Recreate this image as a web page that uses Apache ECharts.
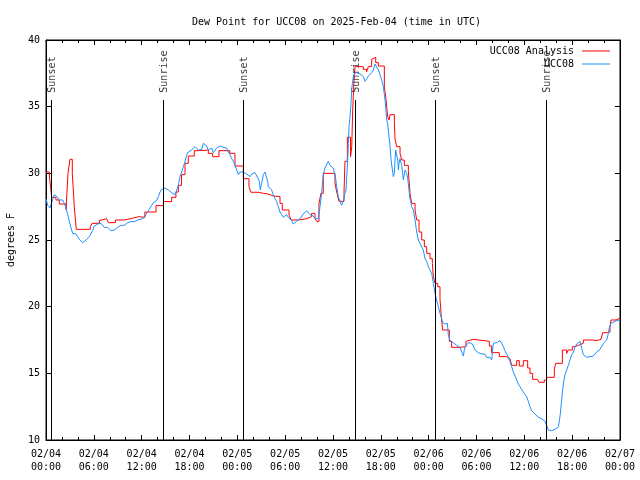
<!DOCTYPE html>
<html><head><meta charset="utf-8">
<script src="https://cdn.jsdelivr.net/npm/echarts@6/dist/echarts.min.js"></script>
<style>html,body{margin:0;padding:0;background:#fff}#c{width:640px;height:480px}</style>
</head><body><div id="c"></div>
<script>
const titleText = 'Dew Point for UCC08 on 2025-Feb-04 (time in UTC)';
const xTickLabels = ['02/04\n00:00','02/04\n06:00','02/04\n12:00','02/04\n18:00','02/05\n00:00','02/05\n06:00','02/05\n12:00','02/05\n18:00','02/06\n00:00','02/06\n06:00','02/06\n12:00','02/06\n18:00','02/07\n00:00'];
const sunTimes = [0.67, 14.74, 24.76, 38.8, 48.85, 62.77];
const sunLabels = ['Sunset','Sunrise','Sunset','Sunrise','Sunset','Sunrise'];
// hours since 02/04 00:00 UTC, dew point F (analysis is stepped: value holds until next point)
const analysisPoints = [[0,30.1],[0.42,29.8],[0.59,28.9],[0.71,28.2],[1.25,28.0],[1.67,27.7],[2.51,27.3],[2.76,30.0],[3.01,31.05],[3.30,30.0],[3.55,27.5],[3.80,25.8],[5.56,26.0],[5.77,26.25],[6.69,26.45],[6.81,26.6],[7.61,26.45],[7.82,26.3],[8.70,26.5],[9.74,26.6],[10.66,26.75],[11.62,26.7],[12.4,27.1],[13.8,27.58],[14.72,27.88],[15.76,28.2],[16.3,28.6],[16.6,29.1],[17.0,29.9],[17.44,30.75],[17.85,31.3],[18.6,31.7],[19.32,31.75],[20.36,31.5],[20.9,31.25],[21.7,31.7],[23.05,31.5],[23.7,30.55],[24.75,29.6],[25.46,29.0],[25.7,28.58],[26.63,28.5],[27.26,28.45],[27.89,28.3],[28.51,28.25],[29.35,27.75],[29.64,27.25],[30.48,26.9],[30.73,26.5],[31.65,26.6],[32.7,26.75],[33.32,27.0],[33.74,26.6],[33.95,26.4],[34.24,27.75],[34.49,28.5],[34.78,30.0],[36.25,29.25],[36.5,28.5],[36.75,27.9],[37.38,28.5],[37.5,30.9],[37.8,32.7],[38.2,31.25],[38.35,32.0],[38.47,34.75],[38.64,37.0],[38.76,38.0],[39.8,37.8],[40.2,37.6],[40.44,38.0],[40.85,38.55],[41.06,38.7],[41.36,38.3],[41.69,38.05],[42.44,36.5],[42.61,35.75],[42.86,34.25],[43.03,34.0],[43.15,34.4],[43.7,33.75],[43.78,32.6],[43.99,32.0],[44.41,31.5],[44.62,31.0],[44.95,30.6],[45.45,30.2],[45.66,28.5],[45.87,27.75],[46.29,27.25],[46.5,26.5],[46.79,25.6],[47.13,25.0],[47.46,24.5],[47.75,24.0],[48.17,23.6],[48.46,23.25],[48.59,22.25],[48.8,21.75],[49.13,21.5],[49.42,20.6],[49.55,19.5],[49.75,18.25],[50.59,17.4],[50.88,16.95],[51.93,17.0],[52.68,17.4],[52.85,17.55],[53.6,17.7],[53.81,17.4],[55.61,17.05],[55.9,16.55],[56.86,16.25],[57.78,16.1],[58.2,16.05],[58.41,15.6],[59.04,15.95],[59.37,15.55],[59.87,15.95],[60.42,15.4],[60.71,15.0],[61.04,14.55],[61.63,14.4],[61.84,14.33],[62.51,14.5],[62.8,14.7],[63.76,15.3],[63.93,15.75],[64.77,16.75],[65.31,16.5],[65.52,16.75],[66.02,17.0],[66.36,17.1],[66.77,17.25],[67.4,17.5],[68.53,17.45],[69.07,17.55],[69.62,17.6],[69.83,18.05],[70.45,18.1],[70.75,18.45],[70.87,19.0],[71.5,19.1],[71.88,19.2],[72,19.25]];
const obsPoints = [[0,28.1],[0.21,27.6],[0.5,27.4],[0.71,27.25],[0.84,28.05],[1.05,28.4],[1.25,28.5],[1.46,28.2],[1.67,28.0],[1.88,27.9],[2.09,28.0],[2.3,27.75],[2.51,27.4],[2.72,26.9],[2.93,26.4],[3.14,25.9],[3.34,25.5],[3.55,25.45],[3.76,25.45],[3.97,25.25],[4.18,25.05],[4.39,24.95],[4.6,24.8],[4.81,24.7],[5.02,25.0],[5.23,25.1],[5.43,25.25],[5.64,25.4],[5.85,25.7],[6.06,26.05],[6.27,26.1],[6.48,26.2],[6.69,26.1],[6.9,26.25],[7.11,26.1],[7.32,25.95],[7.53,26.1],[7.73,25.95],[7.94,25.8],[8.15,25.7],[8.36,25.6],[8.57,25.75],[8.78,25.85],[8.99,25.95],[9.2,26.05],[9.41,26.1],[9.62,26.2],[9.82,26.1],[10.03,26.2],[10.24,26.3],[10.45,26.38],[10.66,26.38],[10.87,26.45],[11.08,26.38],[11.29,26.45],[11.5,26.5],[11.71,26.5],[11.91,26.55],[12.12,26.5],[12.33,26.7],[12.54,26.9],[12.75,27.1],[12.96,27.3],[13.26,27.6],[13.47,27.8],[13.67,27.875],[13.88,27.95],[14.09,28.25],[14.3,28.6],[14.51,28.8],[14.72,28.75],[14.93,28.9],[15.14,29.05],[15.35,28.75],[15.56,28.7],[15.76,28.55],[15.97,28.6],[16.18,28.4],[16.39,28.55],[16.6,29.1],[16.81,29.75],[17.02,30.1],[17.23,30.5],[17.44,30.9],[17.65,31.4],[17.85,31.6],[18.06,31.5],[18.27,31.75],[18.48,31.9],[18.69,32.0],[18.9,32.1],[19.11,31.75],[19.32,31.6],[19.53,31.8],[19.74,32.25],[19.95,32.4],[20.15,32.05],[20.36,31.75],[20.57,31.8],[20.78,31.9],[20.99,31.55],[21.2,31.6],[21.41,31.9],[21.62,31.8],[21.83,32.05],[22.04,32.1],[22.24,31.95],[22.45,32.05],[22.66,31.9],[22.87,31.6],[23.08,31.4],[23.29,31.1],[23.5,30.9],[23.71,30.6],[23.92,30.25],[24.13,29.9],[24.33,30.1],[24.54,30.2],[24.75,30.1],[24.96,29.95],[25.17,29.95],[25.38,29.9],[25.59,29.75],[25.8,29.95],[26.0,30.05],[26.21,30.05],[26.42,29.9],[26.63,29.6],[26.76,29.4],[26.88,28.75],[27.05,29.25],[27.26,29.9],[27.47,30.1],[27.68,30.2],[27.8,29.4],[27.89,29.0],[28.1,28.95],[28.3,28.75],[28.51,28.4],[28.72,28.1],[28.93,27.9],[29.14,27.5],[29.35,27.1],[29.56,26.9],[29.77,26.7],[29.98,26.75],[30.19,26.9],[30.39,26.7],[30.6,26.6],[30.81,26.45],[31.02,26.2],[31.23,26.3],[31.44,26.4],[31.65,26.5],[31.86,26.6],[32.07,26.75],[32.28,26.95],[32.48,27.1],[32.69,27.2],[32.9,27.05],[33.11,26.9],[33.32,26.95],[33.53,26.8],[33.74,26.6],[33.95,26.5],[34.16,26.6],[34.37,27.5],[34.57,28.5],[34.78,29.9],[34.99,30.4],[35.2,30.3],[35.41,30.9],[35.62,30.6],[35.83,30.5],[36.04,30.4],[36.17,30.5],[36.33,29.6],[36.46,29.0],[36.67,28.25],[36.88,27.9],[37.08,27.6],[37.29,27.9],[37.5,28.5],[37.64,28.75],[37.72,29.75],[37.84,31.0],[37.93,32.25],[38.01,33.5],[38.14,34.25],[38.26,35.25],[38.35,36.25],[38.43,36.75],[38.56,37.25],[38.68,37.5],[38.85,37.6],[38.97,37.55],[39.18,37.5],[39.39,37.45],[39.6,37.4],[39.81,37.25],[40.02,36.9],[40.23,37.1],[40.44,37.3],[40.65,37.45],[40.85,37.55],[41.06,37.75],[41.27,38.2],[41.48,38.05],[41.69,37.75],[41.9,37.4],[42.11,37.0],[42.32,36.5],[42.44,35.9],[42.53,35.5],[42.61,35.0],[42.74,34.0],[42.86,33.75],[42.94,33.25],[43.03,32.75],[43.15,32.1],[43.28,31.0],[43.45,30.25],[43.57,29.75],[43.7,30.0],[43.78,31.0],[43.86,31.75],[43.99,31.9],[44.12,31.0],[44.2,30.25],[44.28,30.75],[44.41,31.1],[44.53,31.0],[44.62,30.6],[44.83,29.5],[44.95,30.0],[45.04,30.25],[45.16,30.4],[45.24,30.0],[45.37,29.6],[45.45,29.25],[45.58,28.5],[45.66,28.1],[45.79,27.75],[45.87,27.5],[46.08,27.25],[46.29,26.5],[46.5,25.6],[46.71,25.0],[46.92,24.75],[47.13,24.6],[47.33,24.25],[47.54,23.6],[47.75,23.4],[47.96,23.0],[48.17,22.75],[48.38,22.5],[48.59,21.75],[48.8,21.0],[49.0,20.5],[49.21,20.0],[49.42,19.5],[49.63,19.1],[49.75,18.8],[49.92,18.7],[50.05,18.7],[50.26,18.7],[50.34,18.75],[50.47,17.9],[50.67,17.45],[50.88,17.4],[51.09,17.3],[51.3,17.25],[51.51,17.1],[51.72,17.0],[51.93,16.95],[52.05,16.75],[52.22,16.5],[52.35,16.3],[52.47,16.75],[52.56,16.95],[52.76,17.1],[52.97,17.3],[53.18,17.4],[53.39,17.25],[53.6,17.05],[53.81,16.75],[54.02,16.6],[54.23,16.55],[54.44,16.55],[54.65,16.45],[54.85,16.4],[55.06,16.45],[55.27,16.2],[55.48,16.3],[55.69,16.2],[55.77,16.1],[55.9,16.0],[56.02,16.75],[56.11,17.25],[56.32,17.3],[56.53,17.3],[56.74,17.4],[56.95,17.45],[57.15,17.25],[57.36,17.0],[57.57,16.7],[57.78,16.45],[57.99,16.2],[58.2,15.9],[58.41,15.5],[58.62,15.1],[58.83,14.8],[59.04,14.5],[59.25,14.2],[59.46,14.0],[59.66,13.8],[59.87,13.6],[60.08,13.45],[60.29,13.25],[60.5,12.9],[60.71,12.5],[60.92,12.2],[61.13,12.05],[61.34,11.95],[61.55,11.8],[61.76,11.7],[61.97,11.75],[62.18,11.6],[62.39,11.5],[62.59,11.4],[62.8,11.1],[63.01,10.75],[63.22,10.6],[63.43,10.7],[63.64,10.75],[63.85,10.8],[64.06,10.9],[64.27,11.0],[64.39,11.4],[64.52,12.0],[64.68,13.0],[64.81,13.75],[64.94,14.4],[65.1,14.9],[65.31,15.25],[65.52,15.6],[65.73,16.0],[65.94,16.4],[66.15,16.6],[66.36,16.95],[66.57,17.2],[66.77,17.3],[66.98,17.4],[67.19,16.9],[67.4,16.4],[67.61,16.25],[67.82,16.2],[68.03,16.2],[68.24,16.25],[68.45,16.3],[68.66,16.3],[68.86,16.45],[69.07,16.6],[69.28,16.7],[69.49,16.8],[69.7,17.0],[69.91,17.25],[70.12,17.2],[70.33,17.5],[70.54,18.0],[70.66,18.45],[70.87,18.75],[71.04,18.7],[71.21,18.85],[71.37,18.75],[71.58,18.95],[71.79,19.0],[72.0,19.0]];

const FONT = 'DejaVu Sans Mono';
const chart = echarts.init(document.getElementById('c'), null, {renderer: 'canvas'});
const axisBase = {
  axisLine: {show: true, onZero: false, lineStyle: {color: '#000', width: 1}},
  splitLine: {show: false},
};
chart.setOption({
  animation: false,
  backgroundColor: '#fff',
  textStyle: {fontFamily: FONT, fontSize: 10, color: '#000'},
  title: {text: titleText, left: 187, top: 12,
    textStyle: {fontFamily: FONT, fontSize: 10, fontWeight: 'normal', color: '#000'}},
  legend: [
    {data: ['UCC08 Analysis'], right: 25, top: 41, orient: 'vertical', align: 'right',
     itemWidth: 28, itemHeight: 1, icon: 'rect',
     textStyle: {fontFamily: FONT, fontSize: 10, color: '#000', padding: [0, 3, 0, 0]}},
    {data: ['UCC08'], right: 25, top: 54, orient: 'vertical', align: 'right',
     itemWidth: 28, itemHeight: 1, icon: 'rect',
     textStyle: {fontFamily: FONT, fontSize: 10, color: '#000', padding: [0, 3, 0, 0]}}
  ],
  grid: {left: 46, right: 20, top: 40, bottom: 40, show: true, borderColor: '#000', borderWidth: 1,
    backgroundColor: 'transparent', containLabel: false, outerBoundsMode: 'none'},
  xAxis: [
    Object.assign({type: 'value', min: 0, max: 72, interval: 6, position: 'bottom',
      axisTick: {show: true, inside: true, length: 5, lineStyle: {color: '#000'}},
      minorTick: {show: true, splitNumber: 3, length: 3, lineStyle: {color: '#000'}},
      axisLabel: {margin: 8, lineHeight: 13, fontFamily: FONT, fontSize: 10, color: '#000',
        formatter: v => xTickLabels[Math.round(v / 6)] || ''}}, axisBase),
    Object.assign({type: 'value', min: 0, max: 72, interval: 6, position: 'top',
      axisTick: {show: true, inside: true, length: 5, lineStyle: {color: '#000'}},
      minorTick: {show: true, splitNumber: 3, length: 3, lineStyle: {color: '#000'}},
      axisLabel: {show: false}}, axisBase)
  ],
  yAxis: [
    Object.assign({type: 'value', min: 10, max: 40, interval: 5, position: 'left',
      name: 'degrees F', nameLocation: 'middle', nameGap: 30, nameRotate: 90,
      nameTextStyle: {fontFamily: FONT, fontSize: 10, color: '#000'},
      axisTick: {show: true, inside: true, length: 5, lineStyle: {color: '#000'}},
      axisLabel: {margin: 6, fontFamily: FONT, fontSize: 10, color: '#000'}}, axisBase),
    Object.assign({type: 'value', min: 10, max: 40, interval: 5, position: 'right',
      axisTick: {show: true, inside: true, length: 5, lineStyle: {color: '#000'}},
      axisLabel: {show: false}}, axisBase)
  ],
  series: [
    {name: 'UCC08 Analysis', type: 'line', step: 'end', showSymbol: false, symbol: 'none',
     data: analysisPoints, lineStyle: {color: '#ff0000', width: 1}, itemStyle: {color: '#ff0000'},
     markLine: {silent: true, symbol: ['none', 'none'], label: {show: false},
       lineStyle: {color: '#000', width: 1, type: 'solid'},
       data: sunTimes.map(t => [{coord: [t, 35.5]}, {coord: [t, 10]}])}},
    {name: 'UCC08', type: 'line', showSymbol: false, symbol: 'none',
     data: obsPoints, lineStyle: {color: '#1e90ff', width: 1}, itemStyle: {color: '#1e90ff'}},
    {name: 'sun', type: 'scatter', symbolSize: 0, silent: true,
     data: sunTimes.map((t, i) => ({value: [t, 36.05], name: sunLabels[i]})),
     label: {show: true, formatter: '{b}', rotate: 90, position: [1, 0], align: 'left', verticalAlign: 'middle',
       fontFamily: FONT, fontSize: 10, color: '#000'}}
  ]
});
</script></body></html>
